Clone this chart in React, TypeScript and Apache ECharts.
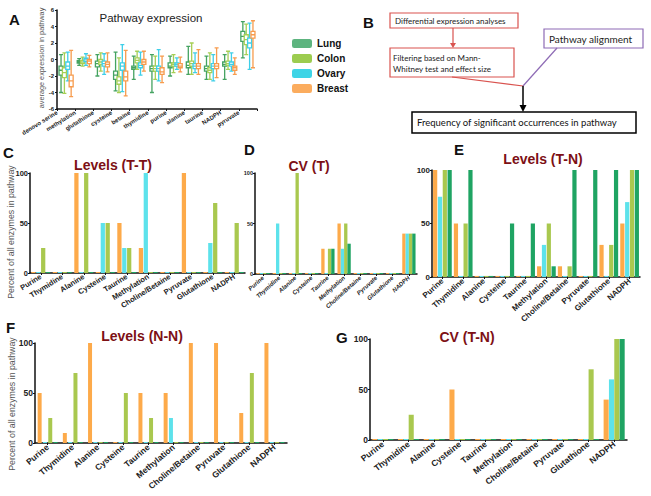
import React, { useEffect, useRef } from 'react';
import * as echarts from 'echarts';

// ---------- Panel A: box plots ----------
const tissues = ['Lung', 'Colon', 'Ovary', 'Breast'];
const boxCats = ['denovo serine', 'methylation', 'glutathione', 'cysteine', 'betaine', 'thymidine', 'purine', 'alanine', 'taurine', 'NADPH', 'pyruvate'];
// [min, Q1, median, Q3, max]
const lungBox = [
  [-4.0, -1.9, -1.3, -0.8, 0.6],
  [-0.7, -0.45, -0.3, -0.15, 0.1],
  [-2.0, -0.9, -0.5, -0.2, 0.6],
  [-3.8, -2.4, -1.9, -1.4, 0.9],
  [-2.4, -1.2, -1.0, -0.8, 0.4],
  [-4.0, -1.4, -1.1, -0.8, 0.6],
  [-2.0, -1.0, -0.8, -0.4, 0.4],
  [-1.8, -1.0, -0.7, -0.3, 1.6],
  [-2.4, -1.4, -1.1, -0.8, 0.4],
  [-2.4, -0.8, -0.6, -0.3, 0.6],
  [0.2, 2.2, 2.8, 3.4, 4.6],
];
const colonBox = [
  [-4.1, -2.2, -1.6, -1.0, 0.8],
  [-0.8, -0.5, -0.3, -0.1, 0.3],
  [-1.4, -0.6, -0.3, 0.0, 0.8],
  [-4.0, -3.0, -2.6, -2.1, 0.2],
  [-1.2, -0.4, -0.1, 0.2, 1.0],
  [-2.4, -1.4, -1.1, -0.8, 0.4],
  [-1.6, -0.8, -0.6, -0.4, 0.6],
  [-1.8, -0.8, -0.5, -0.2, 2.0],
  [-2.4, -1.6, -1.3, -1.0, 0.8],
  [-1.2, -0.7, -0.5, -0.2, 1.0],
  [0.6, 1.8, 2.4, 3.0, 4.3],
];
const ovaryBox = [
  [-2.6, -1.2, -0.8, -0.3, 0.9],
  [-0.7, -0.25, -0.05, 0.15, 0.7],
  [-1.8, -0.8, -0.5, -0.2, 0.7],
  [-3.9, -1.3, -0.8, -0.4, 1.8],
  [-1.9, -1.0, -0.7, -0.4, 0.9],
  [-2.6, -1.4, -1.1, -0.8, 1.2],
  [-1.2, -0.8, -0.6, -0.4, 0.2],
  [-1.6, -1.1, -0.8, -0.5, 0.8],
  [-2.6, -1.1, -0.8, -0.5, 0.6],
  [-1.4, -0.8, -0.6, -0.3, 0.8],
  [-1.2, 1.4, 2.0, 2.6, 4.4],
];
const breastBox = [
  [-4.5, -3.3, -2.6, -1.9, 1.1],
  [-0.9, -0.5, -0.2, 0.0, 0.5],
  [-1.5, -0.9, -0.6, -0.3, 0.8],
  [-4.4, -2.6, -2.1, -1.4, 1.1],
  [-1.4, -0.6, -0.3, 0.0, 1.0],
  [-2.8, -1.8, -1.5, -1.0, 0.4],
  [-1.5, -1.0, -0.8, -0.5, 0.3],
  [-1.8, -1.1, -0.8, -0.5, 1.2],
  [-2.2, -1.1, -0.8, -0.5, 1.4],
  [-1.8, -1.3, -1.0, -0.8, 0.2],
  [-1.0, 2.6, 3.0, 3.4, 4.7],
];

// ---------- Panels C-G: bar charts (percent of enzymes) ----------
const pathways = ['Purine', 'Thymidine', 'Alanine', 'Cysteine', 'Taurine', 'Methylation', 'Choline/Betaine', 'Pyruvate', 'Glutathione', 'NADPH'];
const barTissues = ['Breast', 'Ovary', 'Colon', 'Lung'];

// C: Levels (T-T)
const ttBreast = [1, 1, 100, 1, 50, 25, 1, 100, 1, 1];
const ttOvary = [1, 1, 1, 50, 25, 100, 1, 1, 30, 1];
const ttColon = [25, 1, 100, 50, 25, 1, 1, 1, 70, 50];
const ttLung = [1, 1, 1, 1, 1, 1, 1, 1, 1, 1];
// D: CV (T)
const cvtBreast = [1, 1, 1, 1, 25, 50, 1, 1, 1, 40];
const cvtOvary = [1, 50, 1, 1, 1, 25, 1, 1, 1, 40];
const cvtColon = [1, 1, 100, 1, 25, 50, 1, 1, 1, 40];
const cvtLung = [1, 1, 1, 1, 25, 30, 1, 1, 1, 40];
// E: Levels (T-N)
const tnBreast = [100, 50, 1, 1, 1, 10, 10, 1, 30, 50];
const tnOvary = [75, 1, 1, 1, 1, 30, 1, 1, 1, 70];
const tnColon = [100, 50, 1, 1, 1, 50, 10, 1, 30, 100];
const tnLung = [100, 100, 1, 50, 50, 10, 100, 100, 100, 100];
// F: Levels (N-N)
const nnBreast = [50, 10, 100, 1, 50, 50, 100, 100, 30, 100];
const nnOvary = [1, 1, 1, 1, 1, 25, 1, 1, 1, 1];
const nnColon = [25, 70, 1, 50, 25, 1, 1, 1, 70, 1];
const nnLung = [1, 1, 1, 1, 1, 1, 1, 1, 1, 1];
// G: CV (T-N)
const cvtnBreast = [1, 1, 1, 50, 1, 1, 1, 1, 1, 40];
const cvtnOvary = [1, 1, 1, 1, 1, 1, 1, 1, 1, 60];
const cvtnColon = [1, 25, 1, 1, 1, 1, 1, 1, 70, 100];
const cvtnLung = [1, 1, 1, 1, 1, 1, 1, 1, 1, 100];

const yTicks = [0, 50, 100];

const boxColors = ['#45a361', '#a6cf55', '#3fcfe8', '#f79c4e'];
const legendColors = ['#5db47f', '#9ccc4f', '#3ed4e6', '#fbac5e'];
const barColors = ['#fdaa4a', '#5de2eb', '#a9c84f', '#1fa463'];

const FONT = 'Liberation Sans';
const TITLE_RED = '#7d1015';

export default function App() {
  const ref = useRef<HTMLDivElement>(null);
  useEffect(() => {
    if (!ref.current) return;
    const chart = echarts.init(ref.current, null, { renderer: 'svg' });

    const grids = [
      { left: 57, top: 10, width: 200, height: 99 },
      { left: 30, top: 173, width: 215, height: 100 },
      { left: 255, top: 173, width: 162, height: 101 },
      { left: 432, top: 170, width: 208, height: 107 },
      { left: 35, top: 343, width: 252, height: 100 },
      { left: 370, top: 339, width: 257, height: 101 },
    ];

    const barPanels = [
      { data: [ttBreast, ttOvary, ttColon, ttLung], catGap: '12%', gap: '15%', font: 7.5, italic: false, yFont: 7.5, rotate: 32 },
      { data: [cvtBreast, cvtOvary, cvtColon, cvtLung], catGap: '18%', gap: '0%', font: 6, italic: true, yFont: 5.5, rotate: 42 },
      { data: [tnBreast, tnOvary, tnColon, tnLung], catGap: '10%', gap: '15%', font: 8, italic: false, yFont: 8, rotate: 42 },
      { data: [nnBreast, nnOvary, nnColon, nnLung], catGap: '21%', gap: '33%', font: 8.5, italic: false, yFont: 8.5, rotate: 40 },
      { data: [cvtnBreast, cvtnOvary, cvtnColon, cvtnLung], catGap: '18%', gap: '5%', font: 8.5, italic: false, yFont: 8.5, rotate: 38 },
    ];

    const axisLine = { show: true, onZero: false, lineStyle: { color: '#111', width: 1.5 } };

    const xAxis: any[] = [
      {
        type: 'category', gridIndex: 0, data: boxCats, position: 'bottom',
        axisLine, axisTick: { show: false }, axisLabel: { show: false }, splitLine: { show: false },
      },
      {
        type: 'value', gridIndex: 0, min: 0, max: 11, interval: 1, position: 'bottom',
        axisLine: { show: false, onZero: false }, splitLine: { show: false },
        axisTick: { show: true, length: 2, lineStyle: { color: '#111', width: 1 } },
        axisLabel: {
          show: true, rotate: 32, fontSize: 6, fontWeight: 'bold', fontFamily: FONT, color: '#222', margin: 3,
          formatter: (v: number) => (boxCats[v] !== undefined ? boxCats[v] : ''),
        },
      },
    ];
    const yAxis: any[] = [
      {
        type: 'value', gridIndex: 0, min: -6, max: 6, interval: 2,
        axisLine, splitLine: { show: false },
        axisTick: { show: true, length: 2, lineStyle: { color: '#111' } },
        axisLabel: { fontSize: 6, fontWeight: 'bold', fontFamily: FONT, color: '#222', margin: 3 },
      },
    ];

    barPanels.forEach((p, i) => {
      xAxis.push({
        type: 'category', gridIndex: i + 1, data: pathways,
        axisLine, axisTick: { show: true, alignWithLabel: true, length: 2, lineStyle: { color: '#111' } },
        axisLabel: {
          rotate: p.rotate, interval: 0, fontSize: p.font, fontWeight: 'bold', fontStyle: p.italic ? 'italic' : 'normal',
          fontFamily: FONT, color: '#222', margin: 3,
        },
      });
      yAxis.push({
        type: 'value', gridIndex: i + 1, min: yTicks[0], max: yTicks[2], interval: 50,
        axisLine, splitLine: { show: false },
        axisTick: { show: true, length: 2, lineStyle: { color: '#111' } },
        axisLabel: { fontSize: p.yFont, fontWeight: 'bold', fontFamily: FONT, color: '#222', margin: 2 },
      });
    });

    const series: any[] = [];
    const boxData = [lungBox, colonBox, ovaryBox, breastBox];
    tissues.forEach((t, i) => {
      series.push({
        type: 'boxplot', name: t, xAxisIndex: 0, yAxisIndex: 0,
        data: boxData[i], boxWidth: [4, 4],
        itemStyle: { color: '#fff', borderColor: boxColors[i], borderWidth: 1.3 },
      });
    });
    barPanels.forEach((p, gi) => {
      p.data.forEach((vals, si) => {
        series.push({
          type: 'bar', name: barTissues[si] + ' ' + gi, xAxisIndex: gi + 2, yAxisIndex: gi + 1,
          data: vals, barCategoryGap: p.catGap, barGap: p.gap,
          itemStyle: { color: barColors[si] },
        });
      });
    });

    const letter = (s: string, x: number, y: number) => ({
      type: 'text', x, y, style: { text: s, fontSize: 15, fontWeight: 'bold', fontFamily: FONT, fill: '#111', textVerticalAlign: 'top' },
    });
    const title = (s: string, x: number, y: number) => ({
      type: 'text', x, y, style: { text: s, fontSize: 14, fontWeight: 'bold', fontFamily: FONT, fill: TITLE_RED, textAlign: 'center', textVerticalAlign: 'middle' },
    });
    const yName = (s: string, x: number, y: number, size: number) => ({
      type: 'text', x, y, rotation: Math.PI / 2,
      style: { text: s, fontSize: size, fontFamily: FONT, fill: '#555', textAlign: 'center', textVerticalAlign: 'middle' },
    });
    const FLOW = 'Lato';
    const red = '#d9534f';

    const graphic: any[] = [
      letter('A', 9, 12), letter('B', 363, 15), letter('C', 3, 145), letter('D', 244, 142),
      letter('E', 454, 142), letter('F', 6, 320), letter('G', 336, 330),
      { type: 'text', x: 151, y: 18, style: { text: 'Pathway expression', fontSize: 11.5, fontFamily: FONT, fill: '#222', textAlign: 'center', textVerticalAlign: 'middle' } },
      yName('average expression in pathway', 41, 58, 7.3),
      yName('Percent of all enzymes in pathway', 11, 232, 8.8),
      yName('Percent of all enzymes in pathway', 12, 404, 8.8),
      title('Levels (T-T)', 113, 165), title('CV (T)', 309, 166), title('Levels (T-N)', 543, 159),
      title('Levels (N-N)', 142, 336), title('CV (T-N)', 467, 337),
      // Panel B flowchart
      { type: 'rect', shape: { x: 390, y: 13, width: 128, height: 15 }, style: { fill: '#fff', stroke: red, lineWidth: 1.2 } },
      { type: 'text', x: 395, y: 20.5, style: { text: 'Differential expression analyses', fontSize: 8, fontFamily: FLOW, fill: '#222', textVerticalAlign: 'middle' } },
      { type: 'line', shape: { x1: 453, y1: 28, x2: 453, y2: 44 }, style: { stroke: red, lineWidth: 1.2 } },
      { type: 'polygon', shape: { points: [[450, 43], [456, 43], [453, 48]] }, style: { fill: red } },
      { type: 'rect', shape: { x: 390, y: 48, width: 124, height: 29 }, style: { fill: '#fff', stroke: red, lineWidth: 1.2 } },
      { type: 'text', x: 393, y: 57.5, style: { text: 'Filtering based on Mann-', fontSize: 8, fontFamily: FLOW, fill: '#222', textVerticalAlign: 'middle' } },
      { type: 'text', x: 393, y: 68.5, style: { text: 'Whitney test and effect size', fontSize: 8, fontFamily: FLOW, fill: '#222', textVerticalAlign: 'middle' } },
      { type: 'rect', shape: { x: 544, y: 29, width: 99, height: 19 }, style: { fill: '#fff', stroke: '#8e6bb5', lineWidth: 1.2 } },
      { type: 'text', x: 549, y: 38.5, style: { text: 'Pathway alignment', fontSize: 10, fontFamily: FLOW, fill: '#222', textVerticalAlign: 'middle' } },
      { type: 'line', shape: { x1: 452, y1: 77, x2: 523, y2: 86 }, style: { stroke: red, lineWidth: 1.2 } },
      { type: 'line', shape: { x1: 557, y1: 48, x2: 523, y2: 86 }, style: { stroke: '#8e6bb5', lineWidth: 1.2 } },
      { type: 'line', shape: { x1: 523, y1: 86, x2: 523, y2: 107 }, style: { stroke: '#000', lineWidth: 1.5 } },
      { type: 'polygon', shape: { points: [[519.5, 105], [526.5, 105], [523, 112]] }, style: { fill: '#000' } },
      { type: 'rect', shape: { x: 412, y: 112, width: 224, height: 21 }, style: { fill: '#fff', stroke: '#000', lineWidth: 1.5 } },
      { type: 'text', x: 417, y: 122.5, style: { text: 'Frequency of significant occurrences in pathway', fontSize: 9.5, fontFamily: FLOW, fill: '#111', textVerticalAlign: 'middle' } },
    ];

    chart.setOption({
      animation: false,
      backgroundColor: '#fff',
      grid: grids.map((g) => ({ ...g, containLabel: false })),
      legend: {
        orient: 'vertical', left: 287, top: 33, itemWidth: 20, itemHeight: 9, itemGap: 4,
        selectedMode: false,
        textStyle: { fontSize: 10, fontWeight: 'bold', fontFamily: FONT, color: '#111', lineHeight: 11 },
        data: tissues.map((t, i) => ({ name: t, icon: 'roundRect', itemStyle: { color: legendColors[i], borderWidth: 0 } })),
      },
      xAxis,
      yAxis,
      series,
      graphic,
    });
    return () => chart.dispose();
  }, []);
  return <div ref={ref} style={{ position: 'absolute', left: 0, top: 0, width: 651, height: 496 }} />;
}
